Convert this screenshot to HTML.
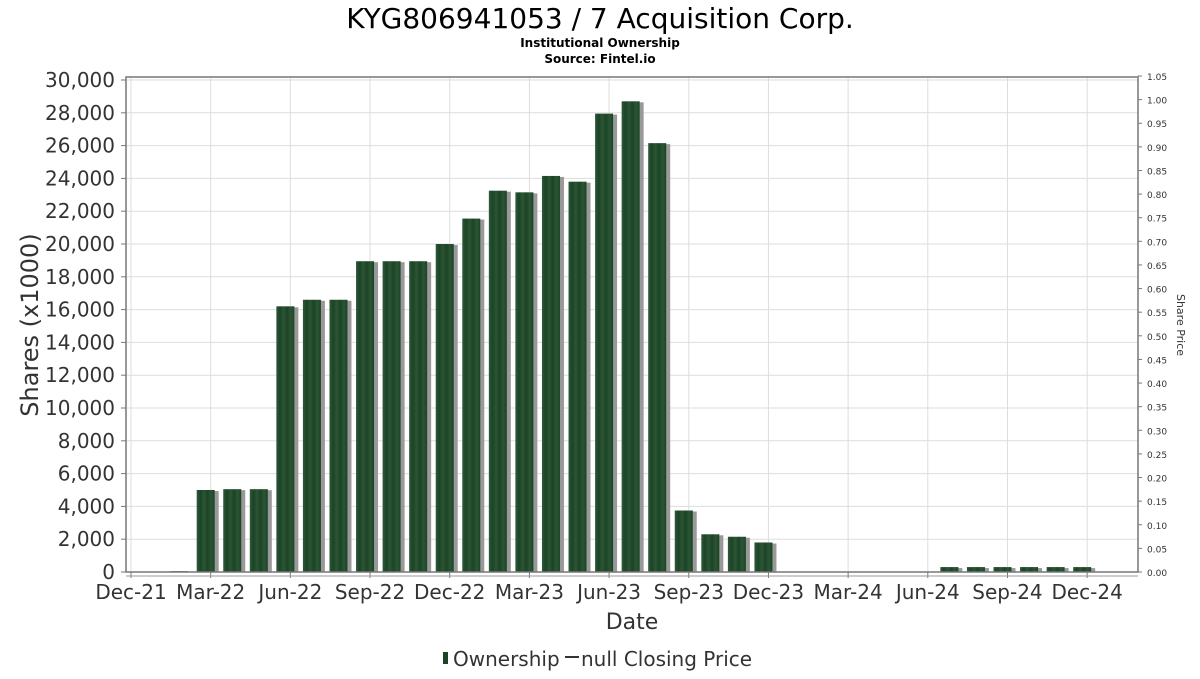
<!DOCTYPE html>
<html><head><meta charset="utf-8"><style>
body{margin:0;background:#fff;font-family:"DejaVu Sans","Liberation Sans",sans-serif;}
svg text{font-family:"DejaVu Sans","Liberation Sans",sans-serif;}
</style></head><body>
<svg id="c" width="1200" height="675" xmlns="http://www.w3.org/2000/svg">
<defs>
<linearGradient id="bg" x1="0" x2="1" y1="0" y2="0">
<stop offset="0" stop-color="#2e5a38"/><stop offset="0.2" stop-color="#1c4326"/><stop offset="0.4" stop-color="#2b5535"/><stop offset="0.6" stop-color="#1c4326"/><stop offset="0.8" stop-color="#2b5535"/><stop offset="1" stop-color="#1c4326"/>
</linearGradient>
</defs>
<text x="600" y="28" text-anchor="middle" font-size="28" fill="#000">KYG806941053 / 7 Acquisition Corp.</text>
<text x="600" y="47" text-anchor="middle" font-size="12" font-weight="bold" fill="#000">Institutional Ownership</text>
<text x="600" y="63" text-anchor="middle" font-size="12" font-weight="bold" fill="#000">Source: Fintel.io</text>
<g id="grid"></g>
<g id="bars"></g>
<rect x="126" y="77" width="1012" height="495" fill="none" stroke="#777" stroke-width="1.5"/>
<g id="axes"></g>
<text transform="translate(38,325) rotate(-90)" text-anchor="middle" font-size="24" fill="#333">Shares (x1000)</text>
<text transform="translate(1177,325) rotate(90)" text-anchor="middle" font-size="11" fill="#333">Share Price</text>
<text x="632" y="629" text-anchor="middle" font-size="22" fill="#333">Date</text>
<g>
<rect x="443" y="652" width="5" height="12" fill="#1c4326"/>
<text x="453" y="666" font-size="20" fill="#333">Ownership</text>
<line x1="565" y1="657" x2="579" y2="657" stroke="#333" stroke-width="2"/>
<text x="581" y="666" font-size="20" fill="#333">null Closing Price</text>
</g>
</svg>
<script>
const monthIndex=[2,3,4,5,6,7,8,9,10,11,12,13,14,15,16,17,18,19,20,21,22,23,24,31,32,33,34,35,36];
const shares=[50,5000,5050,5050,16200,16600,16600,18950,18950,18950,20000,21550,23250,23150,24150,23800,27950,28700,26150,3750,2300,2150,1800,300,300,300,300,300,300];
const yTicks=[0,2000,4000,6000,8000,10000,12000,14000,16000,18000,20000,22000,24000,26000,28000,30000];
const priceTicks=[0,0.05,0.10,0.15,0.20,0.25,0.30,0.35,0.40,0.45,0.50,0.55,0.60,0.65,0.70,0.75,0.80,0.85,0.90,0.95,1.00,1.05];
const xTickLabels=["Dec-21","Mar-22","Jun-22","Sep-22","Dec-22","Mar-23","Jun-23","Sep-23","Dec-23","Mar-24","Jun-24","Sep-24","Dec-24"];
const NS="http://www.w3.org/2000/svg";
const x=m=>131+m*26.56;
const y=v=>572-v*(492/30000);
const yp=p=>572-p*(496/1.05);
function mk(t,a,p){const e=document.createElementNS(NS,t);for(const k in a)e.setAttribute(k,a[k]);p.appendChild(e);return e;}
const g=document.getElementById('grid'),b=document.getElementById('bars'),ax=document.getElementById('axes');
yTicks.forEach(v=>{
const l=mk('line',{x1:126,x2:1138,y1:y(v),y2:y(v),stroke:'#ddd'},g);


mk('line',{x1:121,x2:126,y1:y(v),y2:y(v),stroke:'#777'},ax);
const t=mk('text',{x:115,y:y(v)+7,'text-anchor':'end','font-size':20,fill:'#333'},ax);
t.textContent=v.toLocaleString('en-US');


});
xTickLabels.forEach((s,i)=>{
const xx=x(i*3);
const l=mk('line',{x1:xx,x2:xx,y1:77,y2:572,stroke:'#ddd'},g);


mk('line',{x1:xx,x2:xx,y1:572,y2:578,stroke:'#777'},ax);
const t=mk('text',{x:xx,y:599,'text-anchor':'middle','font-size':20,fill:'#333'},ax);
t.textContent=s;


});
mk('line',{x1:126,x2:1138,y1:576,y2:576,stroke:'#999'},ax);
priceTicks.forEach(p=>{
mk('line',{x1:1138,x2:1142,y1:yp(p),y2:yp(p),stroke:'#777'},ax);
const t=mk('text',{x:1147,y:yp(p)+4,'font-size':9,fill:'#333'},ax);
t.textContent=p.toFixed(2);


});
shares.forEach((v,i)=>{
const cx=x(monthIndex[i])-5,top=y(v),h=572-top;
const s=mk('rect',{x:cx-8+3,y:top+1,width:18,height:Math.max(h-1,0),fill:'#999'},b);


const r=mk('rect',{x:cx-9,y:top,width:18,height:h,fill:'url(#bg)'},b);


});
</script>
</body></html>
